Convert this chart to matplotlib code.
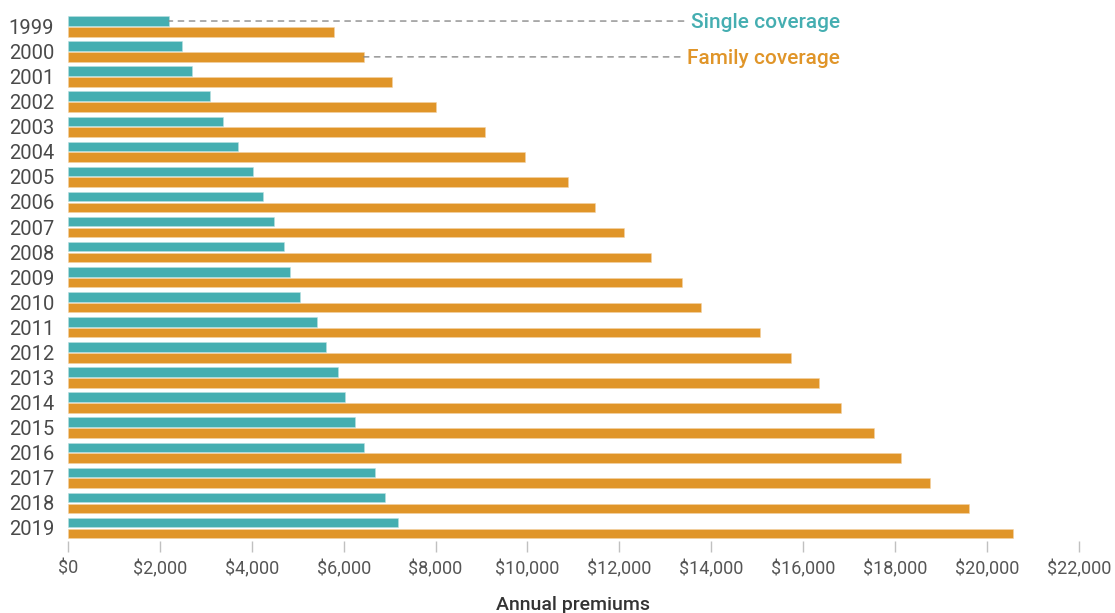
import matplotlib.pyplot as plt
import numpy as np

# Average annual premiums, 1999-2019
years = [str(y) for y in range(1999, 2020)]
single = [2196, 2471, 2689, 3083, 3383, 3695, 4024, 4242, 4479, 4704, 4824,
          5049, 5429, 5615, 5884, 6025, 6251, 6435, 6690, 6896, 7188]
family = [5791, 6438, 7061, 8003, 9068, 9950, 10880, 11480, 12106, 12680, 13375,
          13770, 15073, 15745, 16351, 16834, 17545, 18142, 18764, 19616, 20576]
xticks = list(range(0, 22001, 2000))

teal = '#45AEB1'
orange = '#E09529'

plt.rcParams['font.family'] = ['Roboto', 'DejaVu Sans']

fig = plt.figure(figsize=(11.15, 6.13), dpi=100)
ax = fig.add_axes([68 / 1115, 1 - 541 / 613, (1078.7 - 68) / 1115, 531 / 613])

pos = np.arange(len(years))
h = 0.38
off = 0.215
ax.barh(pos - off, single, height=h, color=teal, edgecolor='#b9e0e1', linewidth=0.4)
ax.barh(pos + off, family, height=h, color=orange, edgecolor='#f3d3a5', linewidth=0.4)

ax.set_xlim(0, 22000)
ax.set_ylim(20.52, -0.654)

ax.set_yticks(pos)
ax.set_yticklabels(years, fontsize=14.5, color='#4a4a4a')
ax.tick_params(axis='y', length=0, pad=10)

ax.set_xticks(xticks)
ax.set_xticklabels(['$' + format(v, ',') for v in xticks], fontsize=13, color='#555555')
ax.tick_params(axis='x', length=7.6, width=1, color='#c0c0c0', pad=6)

for s in ax.spines.values():
    s.set_visible(False)

ax.set_xlabel('Annual premiums', fontsize=14, color='#333333', fontweight='medium', labelpad=13)

# inline legend labels with dashed leader lines
lbl_x = 16800
dy = 0.07
for text, val, y, col in [('Single coverage', single[0], pos[0] - off, teal),
                          ('Family coverage', family[1], pos[1] + off, orange)]:
    ax.annotate(text, xy=(val, y), xytext=(lbl_x, y + dy),
                ha='right', va='center', fontsize=15, color=col, fontweight='medium',
                arrowprops=dict(arrowstyle='-', linestyle=(0, (4, 4)), color='#8a8a8a',
                                lw=1, relpos=(0, 0.59), shrinkA=3, shrinkB=0))

fig.savefig('out.png', dpi=100)
